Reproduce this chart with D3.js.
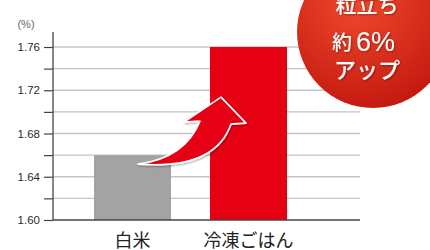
<!DOCTYPE html>
<html><head><meta charset="utf-8">
<script src="https://cdn.jsdelivr.net/npm/d3@7/dist/d3.min.js"></script>
<style>body{margin:0;background:#fff}svg{display:block}</style>
</head><body>
<svg id="c" width="430" height="250"></svg>
<script>
const categories = ["白米", "冷凍ごはん"];
const values = [1.66, 1.76];
const barColors = ["#a3a3a3", "#e60012"];
const tickValues = [1.60, 1.62, 1.64, 1.66, 1.68, 1.70, 1.72, 1.74, 1.76];
const tickLabels = ["1.60", "", "1.64", "", "1.68", "", "1.72", "", "1.76"];
const unitLabel = "(%)";
const badgeLines = ["粒立ち", "約", "6%", "アップ"];

const svg = d3.select("#c");
const defs = svg.append("defs");
const rg = defs.append("radialGradient").attr("id","rg").attr("cx","40%").attr("cy","30%").attr("r","75%");
rg.append("stop").attr("offset","0%").attr("stop-color","#ef4a2c");
rg.append("stop").attr("offset","100%").attr("stop-color","#c3170f");
const sh = defs.append("filter").attr("id","sh").attr("x","-20%").attr("y","-20%").attr("width","140%").attr("height","140%");
sh.append("feDropShadow").attr("dx",1).attr("dy",1).attr("stdDeviation",1).attr("flood-color","#000").attr("flood-opacity",0.35);

const plotL = 53, plotR = 360;
const y = d3.scaleLinear().domain([1.60, 1.76]).range([220, 47]);
const x = d3.scaleBand().domain(categories).range([53.4, 327.6]).paddingInner(0.336).paddingOuter(0.35);

// gridlines
svg.append("g").selectAll("line").data(tickValues.slice(1)).join("line")
  .attr("x1", plotL).attr("x2", plotR)
  .attr("y1", d => y(d)).attr("y2", d => y(d))
  .attr("stroke", "#c4c4c4").attr("stroke-width", 1.3);

// bars
svg.append("g").selectAll("rect").data(values).join("rect")
  .attr("x", (d,i) => x(categories[i]))
  .attr("width", x.bandwidth())
  .attr("y", d => y(d))
  .attr("height", d => y(1.60) - y(d))
  .attr("fill", (d,i) => barColors[i]);

// baseline
svg.append("line").attr("x1", plotL).attr("x2", plotR).attr("y1", y(1.60)).attr("y2", y(1.60))
  .attr("stroke", "#444").attr("stroke-width", 1.3);

// y axis
const axis = d3.axisLeft(y).tickValues(tickValues).tickSize(9).tickPadding(4)
  .tickFormat((d,i) => tickLabels[i]);
const ga = svg.append("g").attr("transform", `translate(${plotL},0)`).call(axis);
ga.select(".domain").attr("d", `M-0,${y(1.60)}V32`).attr("stroke","#444").attr("stroke-width",1.3);
ga.selectAll(".tick line").attr("stroke","#444").attr("stroke-width",1.2);
ga.selectAll(".tick text").attr("fill","#2a2a2a").style("font-family","'Liberation Sans', Arial, sans-serif").style("font-size","11.5px");

svg.append("text").attr("x", 26).attr("y", 28).attr("text-anchor","middle")
  .attr("fill","#666").style("font-family","'Liberation Sans', Arial, sans-serif").style("font-size","11px").text(unitLabel);

// category labels
svg.append("g").selectAll("text").data(categories).join("text")
  .attr("x", d => x(d) + x.bandwidth()/2).attr("y", 247)
  .attr("text-anchor","middle").attr("fill","#222")
  .style("font-family","'Noto Sans CJK JP', sans-serif").style("font-size","18px")
  .text(d => d);

// curved arrow from gray bar to red bar
const x0 = x(categories[0]) + x.bandwidth(), x1 = x(categories[1]);
const yA = y(values[0]);
const p = d3.path();
p.moveTo(x0 - 33, yA + 9);
p.quadraticCurveTo(x0 + 14, yA + 3, x1 - 10, yA - 34);
p.lineTo(x1 - 26, yA - 33);
p.lineTo(x1 + 11, yA - 58);
p.lineTo(x1 + 36, yA - 32);
p.lineTo(x1 + 21, yA - 31);
p.quadraticCurveTo(x0 + 44, yA + 15, x0 - 33, yA + 9);
p.closePath();
svg.append("path").attr("d", p.toString()).attr("fill","#e60012")
  .attr("stroke","#fff").attr("stroke-width",1.6).attr("stroke-linejoin","round")
  .attr("filter","url(#sh)");

// badge
const bx = 373, by = 32, br = 76;
svg.append("circle").attr("cx", bx).attr("cy", by).attr("r", br).attr("fill","url(#rg)");
const tf = "'Noto Sans CJK JP', sans-serif";
const bt = svg.append("g").attr("fill","#fff").attr("filter","url(#sh)").style("font-family", tf).style("font-weight","500");
bt.append("text").attr("x", 367).attr("y", 12).attr("text-anchor","middle").style("font-size","21px").text(badgeLines[0]);
bt.append("text").attr("x", 352).attr("y", 50).attr("text-anchor","end").style("font-size","20px").text(badgeLines[1]);
bt.append("text").attr("x", 356).attr("y", 51).attr("text-anchor","start").style("font-size","27px")
  .style("font-family","'Liberation Sans', Arial, sans-serif").style("font-weight","400").text(badgeLines[2]);
bt.append("text").attr("x", 367).attr("y", 78).attr("text-anchor","middle").style("font-size","22px").text(badgeLines[3]);
</script>
</body></html>
